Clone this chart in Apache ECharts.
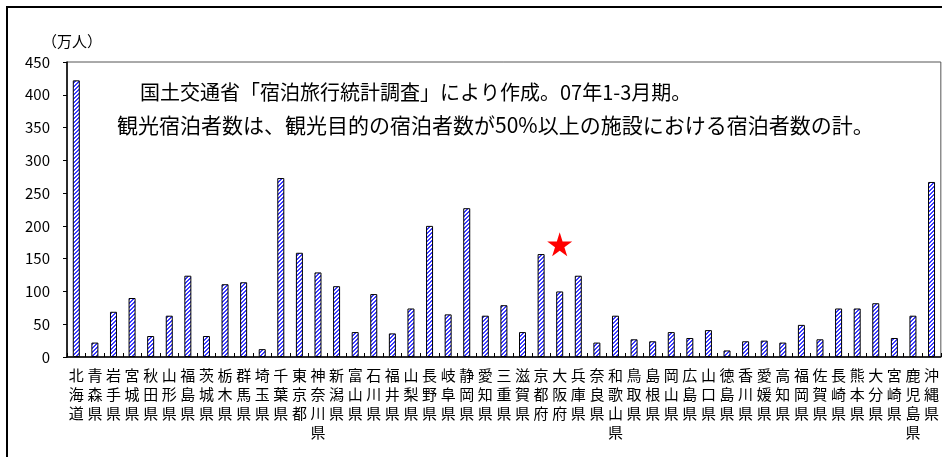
<!DOCTYPE html>
<html>
<head>
<meta charset="utf-8">
<script src="https://cdn.jsdelivr.net/npm/echarts@6/dist/echarts.min.js"></script>
<style>
html,body{margin:0;padding:0;background:#fff;}
#chart{width:942px;height:457px;}
</style>
</head>
<body>
<div id="chart"></div>
<script>
const categories = ['北海道','青森県','岩手県','宮城県','秋田県','山形県','福島県','茨城県','栃木県','群馬県','埼玉県','千葉県','東京都','神奈川県','新潟県','富山県','石川県','福井県','山梨県','長野県','岐阜県','静岡県','愛知県','三重県','滋賀県','京都府','大阪府','兵庫県','奈良県','和歌山県','鳥取県','島根県','岡山県','広島県','山口県','徳島県','香川県','愛媛県','高知県','福岡県','佐賀県','長崎県','熊本県','大分県','宮崎県','鹿児島県','沖縄県'];
const values = [422,22,69,90,32,63,124,32,111,114,12,273,159,129,108,38,96,36,74,200,65,227,63,79,38,157,100,124,22,63,27,24,38,29,41,10,24,25,22,49,27,74,74,82,29,63,267];
const yTicks = [0,50,100,150,200,250,300,350,400,450];
const unitLabel = '（万人）';
const note1 = '国土交通省「宿泊旅行統計調査」により作成。07年1-3月期。';
const note2 = '観光宿泊者数は、観光目的の宿泊者数が50%以上の施設における宿泊者数の計。';
const starCategory = '大阪府';
const starValue = 172;

// hatch pattern
const pc = document.createElement('canvas');
pc.width = 4; pc.height = 4;
const g = pc.getContext('2d');
g.fillStyle = '#ffffff'; g.fillRect(0,0,4,4);
g.fillStyle = '#3a3aff';
for (let y = 0; y < 4; y++) {
  g.fillRect((3 - y + 4) % 4, y, 1, 1);
  g.fillRect((4 - y + 4) % 4, y, 1, 1);
}

const font = '"Noto Sans CJK JP", "Noto Sans", sans-serif';
const chart = echarts.init(document.getElementById('chart'));
chart.setOption({
  animation: false,
  backgroundColor: '#fff',
  grid: {left: 67, top: 62, right: -3, bottom: 100, show: true, borderColor: '#555', borderWidth: 1},
  xAxis: {
    type: 'category',
    data: categories,
    boundaryGap: true,
    axisLine: {lineStyle: {color: '#000', width: 1.5}},
    axisTick: {show: true, inside: true, length: 4, interval: 0, lineStyle: {color: '#000'}},
    axisLabel: {
      interval: 0, margin: 9, color: '#000', fontFamily: font, fontSize: 15, lineHeight: 19,
      formatter: v => v.split('').join('\n')
    }
  },
  yAxis: {
    type: 'value', min: yTicks[0], max: yTicks[yTicks.length-1], interval: 50,
    splitLine: {show: false},
    axisLine: {show: true, lineStyle: {color: '#000', width: 1.5}},
    axisTick: {show: true, inside: false, length: 4, lineStyle: {color: '#000'}},
    axisLabel: {margin: 17, color: '#000', fontFamily: font, fontSize: 15}
  },
  series: [{
    type: 'bar',
    data: values,
    barWidth: 7,
    itemStyle: {color: {image: pc, repeat: 'repeat'}, borderColor: '#000', borderWidth: 1},
    markPoint: {
      symbol: 'path://M50,0 L61,35 L98,35 L68,57 L79,91 L50,70 L21,91 L32,57 L2,35 L39,35 Z',
      symbolSize: [25, 24],
      itemStyle: {color: '#ff0000', borderWidth: 0},
      label: {show: false},
      data: [{coord: [starCategory, starValue]}]
    }
  }],
  graphic: [
    {type: 'rect', shape: {x: 7, y: 7, width: 960, height: 480}, style: {fill: 'none', stroke: '#000', lineWidth: 2}, silent: true},
    {type: 'text', left: 42, top: 34, style: {text: unitLabel, font: '15px ' + font, fill: '#000'}},
    {type: 'text', left: 140, top: 82, style: {text: note1, font: '20px ' + font, fill: '#000'}},
    {type: 'text', left: 117, top: 115, style: {text: note2, font: '21px ' + font, fill: '#000'}}
  ]
});
</script>
</body>
</html>
